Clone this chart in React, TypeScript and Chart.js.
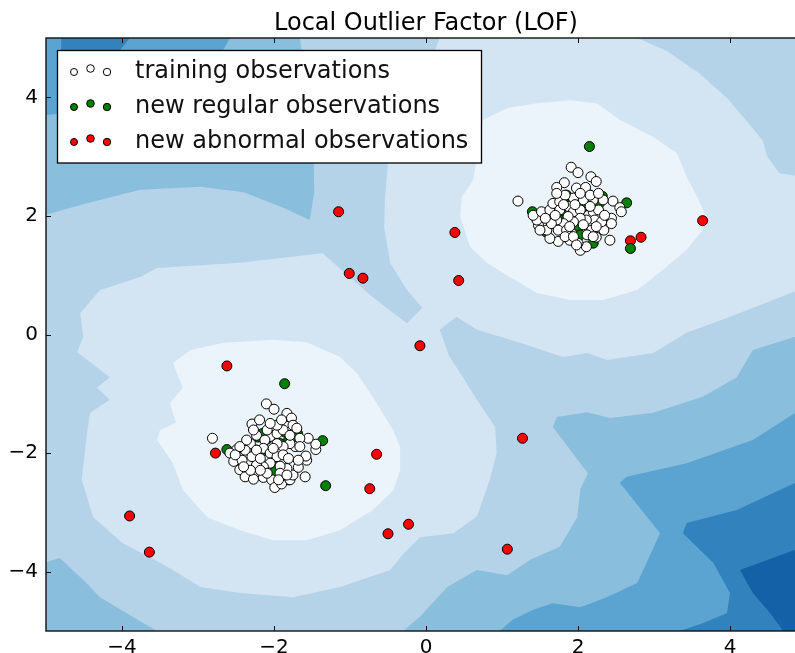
import React, { useEffect, useRef } from "react";
import { Chart, registerables } from "chart.js";
Chart.register(...registerables);

type P = [number, number];

const TITLE = "Local Outlier Factor (LOF)";
const LEGEND_LABELS = ["training observations", "new regular observations", "new abnormal observations"];
const TICK_VALUES = [-4, -2, 0, 2, 4];
const AXIS_MIN = -5;
const AXIS_MAX = 5;
const FONT = '"DejaVu Sans", "Bitstream Vera Sans", sans-serif';

// filled-contour band colours, from the lightest (most normal) to the darkest
const BAND_COLORS = ["#ebf3fb", "#d3e4f3", "#b4d3e9", "#89bedc", "#5ba3d0", "#3282be", "#1461a8"];
const BASE_BAND = 2;

// contour region outlines (data coordinates)
const band3UpperLeft: P[] = [[-5, 5], [-1.66, 5], [-1.55, 4.0], [-1.48, 3.0], [-1.47, 2.4], [-1.53, 1.93], [-1.9, 2.15], [-2.4, 2.4], [-2.97, 2.49], [-3.76, 2.44], [-4.5, 2.2], [-5, 2.02]];
const band3LowerLeft: P[] = [[-5, -5], [-5, -3.84], [-4.82, -3.77], [-4.51, -4.14], [-4.29, -4.43], [-4.07, -4.6], [-3.86, -4.76], [-3.54, -5]];
const band3LowerRight: P[] = [[-0.3, -5], [-0.08, -4.76], [0.28, -4.26], [0.67, -3.97], [1.07, -4.06], [1.37, -3.8], [1.76, -3.58], [1.99, -3.08], [2.03, -2.62], [2.13, -2.34], [1.67, -1.56], [1.72, -1.39], [2.12, -1.31], [2.42, -1.41], [2.99, -1.32], [3.64, -1.05], [4.09, -0.72], [4.3, -0.26], [4.86, -0.04], [5, -0.02], [5, -5]];
const band4UpperLeft: P[] = [[-5, 5], [-2.58, 5], [-2.8, 4.5], [-3.4, 4.0], [-4.2, 3.8], [-5, 3.7]];
const band4LowerRight: P[] = [[0.97, -5], [1.14, -4.81], [1.41, -4.64], [1.67, -4.53], [2.03, -4.6], [2.38, -4.43], [2.78, -4.19], [3.08, -3.35], [2.55, -2.5], [2.64, -2.4], [3.43, -2.17], [4.3, -1.78], [4.86, -1.32], [5, -1.25], [5, -5]];
const band5Top: P[] = [[-4.8, 5], [-3.9, 5], [-4.05, 4.75], [-4.45, 4.65], [-4.8, 4.8]];
const band5LowerRight: P[] = [[3.34, -5], [3.64, -4.87], [3.96, -4.7], [4.0, -4.36], [3.78, -3.85], [3.38, -3.35], [3.43, -3.18], [4.09, -2.96], [4.86, -2.5], [5, -2.45], [5, -5]];
const band6LowerRight: P[] = [[4.7, -5], [4.53, -4.7], [4.3, -4.36], [4.13, -3.97], [4.86, -3.63], [5, -3.58], [5, -5]];
const band1Merged: P[] = [
  [0.18, 5], [2.78, 5], [3.17, 4.78], [3.6, 4.4], [3.96, 3.99], [4.22, 3.6], [4.43, 3.27], [4.49, 3.0], [4.65, 2.72], [5, 2.65],
  [5, 0.8], [4.5, 0.55], [4.0, 0.3], [3.43, 0.03], [2.99, -0.31], [2.38, -0.43], [2.12, -0.31], [1.8, -0.38], [1.24, -0.14], [0.67, 0.08],
  [0.4, 0.3], [0.18, 0.08], [0.3, -0.35], [0.45, -0.65], [0.67, -1.1], [0.91, -1.56], [0.93, -2.0], [0.84, -2.45], [0.67, -3.07],
  [0.36, -3.35], [-0.08, -3.42], [-0.3, -3.7], [-0.47, -3.97], [-1.13, -4.26], [-1.75, -4.43], [-2.45, -4.36], [-2.97, -4.26],
  [-3.33, -3.97], [-3.5, -3.85], [-3.99, -3.52], [-4.38, -3.08], [-4.53, -2.45], [-4.46, -1.66], [-4.42, -1.32], [-4.16, -1.1],
  [-4.33, -0.9], [-4.16, -0.72], [-4.59, -0.3], [-4.51, -0.04], [-4.55, 0.36], [-4.29, 0.75], [-3.76, 0.97], [-3.54, 1.12],
  [-2.45, 1.21], [-1.36, 1.37], [-0.7, 0.63], [-0.25, 0.19], [-0.05, 0.45], [-0.25, 0.75], [-0.47, 1.2], [-0.55, 1.8],
  [-0.54, 2.3], [-0.5, 2.9], [-0.3, 3.6], [0.0, 4.4],
];
const band0Upper: P[] = [[0.75, 3.62], [1.07, 3.82], [1.46, 3.9], [1.89, 3.95], [2.25, 3.9], [2.55, 3.62], [2.99, 3.33], [3.3, 3.06], [3.43, 2.66], [3.57, 2.32], [3.69, 1.98], [3.64, 1.76], [3.43, 1.43], [3.12, 1.09], [2.78, 0.75], [2.33, 0.58], [1.89, 0.58], [1.46, 0.7], [1.1, 0.97], [0.8, 1.21], [0.58, 1.48], [0.45, 1.98], [0.47, 2.32], [0.62, 2.6], [0.7, 3.2]];
const band0Lower: P[] = [[-3.33, -0.48], [-3.1, -0.26], [-2.67, -0.14], [-2.01, -0.09], [-1.57, -0.13], [-1.13, -0.38], [-0.91, -0.65], [-0.7, -1.05], [-0.57, -1.33], [-0.43, -1.61], [-0.34, -1.9], [-0.34, -2.29], [-0.43, -2.63], [-0.7, -2.96], [-1.13, -3.3], [-1.57, -3.47], [-2.01, -3.47], [-2.45, -3.3], [-2.88, -3.08], [-3.2, -2.62], [-3.33, -2.17], [-3.54, -1.78], [-3.5, -1.61], [-3.29, -1.49], [-3.37, -1.16], [-3.2, -0.9]];

const CONTOUR_REGIONS: { band: number; pts: P[] }[] = [
  { band: 3, pts: band3UpperLeft },
  { band: 3, pts: band3LowerLeft },
  { band: 3, pts: band3LowerRight },
  { band: 4, pts: band4UpperLeft },
  { band: 4, pts: band4LowerRight },
  { band: 5, pts: band5Top },
  { band: 5, pts: band5LowerRight },
  { band: 6, pts: band6LowerRight },
  { band: 1, pts: band1Merged },
  { band: 0, pts: band0Upper },
  { band: 0, pts: band0Lower },
];

// training observations
const trainUpper: P[] = [
  [1.21, 2.25], [1.91, 2.82], [2.0, 2.73], [2.17, 2.66], [2.24, 2.58], [1.82, 2.56], [1.72, 2.48], [1.98, 2.47], [2.1, 2.48],
  [2.46, 2.25], [2.55, 2.14], [2.57, 2.07], [2.44, 1.96], [2.44, 1.87], [2.34, 1.76], [2.42, 1.59], [2.24, 1.64], [2.18, 1.76],
  [2.03, 1.42], [2.11, 1.48], [2.0, 1.54], [1.89, 1.59], [1.74, 1.57], [1.63, 1.62], [1.59, 1.76], [1.48, 1.84], [1.46, 1.93],
  [1.41, 2.01], [1.52, 2.07], [1.63, 2.1], [1.67, 2.21], [1.76, 2.24], [1.87, 2.16], [1.94, 2.07], [2.03, 2.1], [2.14, 2.01],
  [2.2, 2.07], [2.27, 2.1], [2.22, 1.93], [2.11, 1.93], [2.03, 1.96], [1.94, 1.9], [1.87, 1.99], [1.81, 1.87], [1.72, 1.93],
  [1.65, 1.87], [1.74, 1.76], [1.85, 1.76], [1.83, 1.65], [2.33, 2.27], [2.2, 2.27], [2.07, 2.27], [1.94, 2.3], [1.83, 2.35],
  [2.03, 2.38], [2.16, 2.35], [2.27, 2.38], [1.76, 2.1], [1.57, 1.96], [1.5, 1.76], [2.12, 1.68], [2.31, 1.9], [2.35, 2.01],
  [1.94, 1.65], [2.07, 1.85], [2.16, 2.16], [1.96, 2.19], [1.81, 2.19], [1.7, 2.01], [1.89, 1.82], [1.72, 2.38], [2.24, 1.82],
  [2.2, 1.65], [1.98, 1.51],
];
const trainLower: P[] = [
  [-2.81, -1.75], [-2.1, -1.17], [-2.0, -1.26], [-1.83, -1.33], [-1.77, -1.41], [-2.29, -1.51], [-2.19, -1.44], [-2.01, -1.54],
  [-1.92, -1.53], [-1.83, -1.55], [-1.75, -1.53], [-2.23, -1.7], [-2.31, -1.84], [-2.38, -1.95], [-2.49, -1.94], [-2.58, -2.0],
  [-2.53, -2.14], [-2.42, -2.12], [-2.45, -2.28], [-2.38, -2.4], [-2.27, -2.44], [-2.14, -2.41], [-2.03, -2.45], [-1.99, -2.58],
  [-1.9, -2.52], [-1.79, -2.45], [-1.75, -2.37], [-1.83, -2.26], [-1.92, -2.22], [-1.68, -2.24], [-1.59, -2.4], [-1.57, -2.12],
  [-1.58, -2.05], [-1.45, -1.94], [-1.45, -1.85], [-1.55, -1.75], [-1.72, -1.89], [-1.79, -1.84], [-1.88, -1.89], [-1.96, -1.84],
  [-2.05, -1.72], [-2.12, -1.78], [-1.96, -1.67], [-1.88, -1.61], [-1.79, -1.7], [-1.7, -1.58], [-1.66, -1.75], [-2.14, -1.92],
  [-2.05, -2.0], [-1.96, -2.06], [-1.88, -2.03], [-1.81, -2.09], [-2.05, -2.17], [-2.14, -2.23], [-2.23, -2.2], [-2.29, -2.06],
  [-2.23, -1.95], [-2.36, -1.78], [-2.27, -1.61], [-2.09, -1.61], [-1.96, -1.53], [-1.9, -1.44], [-2.05, -1.5], [-1.92, -2.34],
  [-2.09, -2.34], [-2.18, -2.29], [-2.31, -2.29], [-1.68, -2.12], [-1.66, -1.89], [-2.4, -2.23], [-2.51, -2.03], [-2.45, -1.89],
  [-2.18, -2.09], [-2.01, -1.92], [-1.94, -2.45], [-1.83, -2.37],
];

// new regular observations
const regularUpper: P[] = [
  [2.15, 3.17], [1.4, 2.07], [1.81, 2.27], [1.89, 2.22], [1.85, 2.35], [1.78, 2.07], [1.76, 1.94], [1.85, 2.04], [2.16, 2.35],
  [2.32, 2.33], [2.28, 2.21], [2.15, 2.17], [2.09, 2.17], [2.64, 2.22], [2.01, 1.82], [2.03, 1.68], [1.58, 1.73], [2.2, 1.54], [2.69, 1.45],
];
const regularLower: P[] = [
  [-1.86, -0.83], [-2.62, -1.94], [-2.21, -1.73], [-2.15, -1.67], [-2.1, -1.77], [-2.23, -1.95], [-2.16, -1.98], [-2.24, -2.06],
  [-1.85, -1.65], [-1.69, -1.67], [-1.73, -1.79], [-1.85, -1.84], [-1.92, -1.84], [-1.36, -1.79], [-2.43, -2.27], [-2.01, -2.18],
  [-1.99, -2.31], [-1.81, -2.45], [-1.32, -2.55],
];

// new abnormal observations
const abnormal: P[] = [
  [-1.15, 2.07], [0.38, 1.72], [3.64, 1.92], [2.69, 1.58], [2.83, 1.64], [-1.01, 1.03], [-0.83, 0.95], [0.43, 0.91],
  [-0.08, -0.19], [-2.62, -0.53], [-2.77, -2.0], [1.27, -1.75], [-0.65, -2.02], [-0.74, -2.6], [-3.9, -3.06], [-3.64, -3.67],
  [-0.23, -3.2], [-0.5, -3.36], [1.07, -3.62],
];

const toXY = (pts: P[]) => pts.map(([x, y]) => ({ x, y }));
const fmtTick = (v: number) => (v < 0 ? "\u2212" + Math.abs(v) : String(v));

const SERIES = [
  { data: [...trainUpper, ...trainLower], fill: "#ffffff" },
  { data: [...regularUpper, ...regularLower], fill: "#008000" },
  { data: abnormal, fill: "#ff0000" },
];

const contourPlugin = {
  id: "contourFill",
  beforeDatasetsDraw(chart: any) {
    const { ctx, chartArea: a, scales } = chart;
    const sx = scales.x, sy = scales.y;
    ctx.save();
    ctx.beginPath();
    ctx.rect(a.left, a.top, a.right - a.left, a.bottom - a.top);
    ctx.clip();
    ctx.fillStyle = BAND_COLORS[BASE_BAND];
    ctx.fillRect(a.left, a.top, a.right - a.left, a.bottom - a.top);
    for (const r of CONTOUR_REGIONS) {
      ctx.beginPath();
      r.pts.forEach(([vx, vy], i) => {
        const px = sx.getPixelForValue(vx);
        const py = sy.getPixelForValue(vy);
        if (i === 0) ctx.moveTo(px, py);
        else ctx.lineTo(px, py);
      });
      ctx.closePath();
      ctx.fillStyle = BAND_COLORS[r.band];
      ctx.fill();
    }
    ctx.restore();
  },
};

const decorPlugin = {
  id: "decor",
  afterDraw(chart: any) {
    const { ctx, chartArea: a, scales } = chart;
    const sx = scales.x, sy = scales.y;
    ctx.save();
    // frame
    ctx.strokeStyle = "#111";
    ctx.lineWidth = 1.4;
    ctx.strokeRect(a.left, a.top, a.right - a.left, a.bottom - a.top);
    // inward ticks on all sides
    ctx.lineWidth = 1;
    ctx.beginPath();
    for (const v of TICK_VALUES) {
      const px = Math.round(sx.getPixelForValue(v)) + 0.5;
      ctx.moveTo(px, a.bottom); ctx.lineTo(px, a.bottom - 5);
      ctx.moveTo(px, a.top); ctx.lineTo(px, a.top + 5);
      const py = Math.round(sy.getPixelForValue(v)) + 0.5;
      ctx.moveTo(a.left, py); ctx.lineTo(a.left + 5, py);
      ctx.moveTo(a.right, py); ctx.lineTo(a.right - 5, py);
    }
    ctx.stroke();

    // title
    ctx.fillStyle = "#000";
    ctx.font = `24px ${FONT}`;
    ctx.textAlign = "center";
    ctx.textBaseline = "alphabetic";
    ctx.fillText(TITLE, (a.left + a.right) / 2, 29.5);

    // legend
    const lx = a.left + 11.5, ly = a.top + 12.5, lw = 424, lh = 112.5;
    ctx.fillStyle = "#ffffff";
    ctx.fillRect(lx, ly, lw, lh);
    ctx.strokeStyle = "#000";
    ctx.lineWidth = 1.3;
    ctx.strokeRect(lx, ly, lw, lh);
    const markerDx = [16.5, 33, 49.5];
    const markerDy = [1.5, -2, 1.5];
    const markerR = [3.5, 3.8, 3.7];
    ctx.font = `24px ${FONT}`;
    ctx.textAlign = "left";
    ctx.textBaseline = "middle";
    LEGEND_LABELS.forEach((label, i) => {
      const cy = ly + 20 + 35 * i;
      for (let k = 0; k < 3; k++) {
        ctx.beginPath();
        ctx.arc(lx + markerDx[k], cy + markerDy[k], markerR[k], 0, Math.PI * 2);
        ctx.fillStyle = SERIES[i].fill;
        ctx.fill();
        ctx.lineWidth = 1;
        ctx.strokeStyle = "#000";
        ctx.stroke();
      }
      ctx.fillStyle = "#111";
      ctx.fillText(label, lx + 77.5, cy + 1.5);
    });
    ctx.restore();
  },
};

export default function App() {
  const canvasRef = useRef<HTMLCanvasElement | null>(null);

  useEffect(() => {
    const canvas = canvasRef.current;
    if (!canvas) return;
    const tickFont = { family: FONT, size: 20 };
    const chart = new Chart(canvas, {
      type: "scatter",
      data: {
        datasets: SERIES.map((s, i) => ({
          label: LEGEND_LABELS[i],
          data: toXY(s.data),
          backgroundColor: s.fill,
          borderColor: "#000000",
          borderWidth: 1,
          pointRadius: 5,
          pointHoverRadius: 5,
        })),
      },
      options: {
        animation: false,
        responsive: false,
        events: [],
        layout: { padding: { top: 38, right: 46, left: 0, bottom: 0 } },
        plugins: {
          legend: { display: false },
          tooltip: { enabled: false },
          title: { display: false },
        },
        scales: {
          x: {
            type: "linear",
            position: "bottom",
            min: AXIS_MIN,
            max: AXIS_MAX,
            grid: { display: false, drawTicks: false },
            border: { display: false },
            ticks: { font: tickFont, color: "#000", padding: 5, maxRotation: 0, autoSkip: false, callback: (v: any) => fmtTick(Number(v)) },
            afterBuildTicks: (s: any) => { s.ticks = TICK_VALUES.map((v) => ({ value: v })); },
            afterFit: (s: any) => { s.height = 22; },
          },
          y: {
            type: "linear",
            position: "left",
            min: AXIS_MIN,
            max: AXIS_MAX,
            grid: { display: false, drawTicks: false },
            border: { display: false },
            ticks: { font: tickFont, color: "#000", padding: 8, autoSkip: false, callback: (v: any) => fmtTick(Number(v)) },
            afterBuildTicks: (s: any) => { s.ticks = TICK_VALUES.map((v) => ({ value: v })); },
            afterFit: (s: any) => { s.width = 46; },
          },
        },
      },
      plugins: [contourPlugin, decorPlugin],
    });
    return () => chart.destroy();
  }, []);

  return (
    <div style={{ position: "fixed", left: 0, top: 0, width: 795, height: 653, overflow: "hidden", background: "#ffffff" }}>
      <canvas ref={canvasRef} width={852} height={653} style={{ display: "block", width: 852, height: 653 }} />
    </div>
  );
}
